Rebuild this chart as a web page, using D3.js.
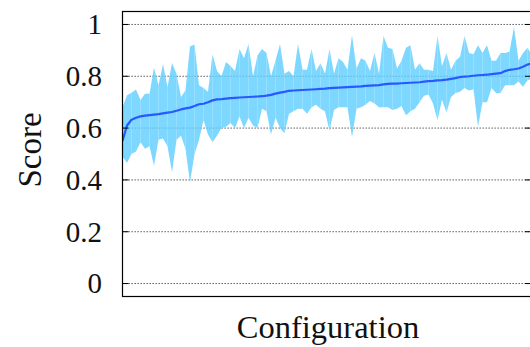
<!DOCTYPE html>
<html>
	<head>
		<meta charset="utf-8">
		<title>Score per configuration</title>
		<script src="https://d3js.org/d3.v7.min.js"></script>
		<style type="text/css">
			body {margin: 0; background: #fff;}
			text {font-family: 'Liberation Serif', 'DejaVu Serif', serif; fill: #111;}
		</style>
	</head>
	<body>
		<svg width=530 height=347></svg>
	</body>
	<script type="text/javascript">
		// y tick labels
		var yTicks = [0, 0.2, 0.4, 0.6, 0.8, 1];

		// upper / lower envelope and mean, one value per configuration (sorted by mean)
		var upper = [0.68, 0.727, 0.736, 0.749, 0.708, 0.733, 0.733, 0.833, 0.765, 0.846,
			0.759, 0.851, 0.81, 0.72, 0.746, 0.915, 0.923, 0.765, 0.755, 0.74,
			0.885, 0.82, 0.80, 0.855, 0.84, 0.82, 0.905, 0.87, 0.925, 0.80,
			0.88, 0.905, 0.89, 0.80, 0.86, 0.925, 0.81, 0.82, 0.80, 0.925,
			0.825, 0.825, 0.905, 0.82, 0.85, 0.81, 0.905, 0.81, 0.87, 0.855,
			0.825, 0.958, 0.83, 0.87, 0.86, 0.82, 0.89, 0.81, 0.955, 0.91,
			0.905, 0.83, 0.86, 0.91, 0.92, 0.825, 0.85, 0.825, 0.825, 0.82,
			0.955, 0.84, 0.89, 0.825, 0.86, 0.875, 0.955, 0.89, 0.885, 0.92,
			0.89, 0.92, 0.86, 0.86, 0.89, 0.89, 0.895, 0.99, 0.86, 0.89,
			0.91, 0.88];

		var lower = [0.49, 0.465, 0.50, 0.51, 0.545, 0.52, 0.53, 0.455, 0.555, 0.56,
			0.53, 0.43, 0.555, 0.57, 0.52, 0.39, 0.50, 0.555, 0.63, 0.575,
			0.545, 0.57, 0.60, 0.605, 0.62, 0.60, 0.645, 0.60, 0.64, 0.61,
			0.60, 0.675, 0.665, 0.575, 0.64, 0.60, 0.58, 0.655, 0.665, 0.675,
			0.675, 0.655, 0.68, 0.69, 0.675, 0.665, 0.59, 0.67, 0.68, 0.68,
			0.68, 0.565, 0.675, 0.68, 0.69, 0.705, 0.695, 0.68, 0.68, 0.68,
			0.67, 0.675, 0.685, 0.65, 0.665, 0.675, 0.70, 0.725, 0.73, 0.695,
			0.63, 0.71, 0.66, 0.72, 0.735, 0.74, 0.755, 0.745, 0.75, 0.605,
			0.70, 0.70, 0.755, 0.735, 0.735, 0.765, 0.765, 0.765, 0.78, 0.76,
			0.785, 0.79];

		var mean = [0.55, 0.61, 0.632, 0.64, 0.645, 0.648, 0.65, 0.652, 0.654, 0.657,
			0.66, 0.662, 0.667, 0.672, 0.676, 0.679, 0.685, 0.692, 0.694, 0.70,
			0.707, 0.711, 0.712, 0.714, 0.716, 0.717, 0.718, 0.719, 0.72, 0.721,
			0.722, 0.723, 0.725, 0.728, 0.733, 0.737, 0.74, 0.744, 0.745, 0.746,
			0.747, 0.748, 0.749, 0.75, 0.751, 0.752, 0.754, 0.755, 0.756, 0.757,
			0.758, 0.759, 0.760, 0.761, 0.763, 0.764, 0.765, 0.766, 0.769, 0.771,
			0.772, 0.772, 0.773, 0.774, 0.775, 0.776, 0.777, 0.779, 0.781, 0.782,
			0.784, 0.785, 0.787, 0.79, 0.793, 0.797, 0.799, 0.80, 0.802, 0.804,
			0.805, 0.806, 0.808, 0.81, 0.812, 0.82, 0.825, 0.827, 0.83, 0.837,
			0.845, 0.85];

		var svg = d3.select("svg"),
		    x0 = 122.5, x1 = 531, y0 = 11.5, y1 = 296.5;

		var data = mean.map(function (m, i) { return {i: i, lo: lower[i], hi: upper[i], m: m}; });

		var x = d3.scaleLinear().domain([0, data.length - 1]).range([x0, x0 + 4.5 * (data.length - 1)]);
		var y = d3.scaleLinear().domain([-0.05, 1.05]).range([y1, y0]);

		svg.append("clipPath").attr("id", "clip")
		  .append("rect").attr("x", x0).attr("y", y0).attr("width", x1 - x0).attr("height", y1 - y0);

		// dotted grid
		svg.append("g")
		  .selectAll("line").data(yTicks).enter().append("line")
		    .attr("x1", x0).attr("x2", x1)
		    .attr("y1", function (d) { return y(d); })
		    .attr("y2", function (d) { return y(d); })
		    .attr("stroke", "#444")
		    .attr("stroke-width", 1)
		    .attr("stroke-dasharray", "1.3,1.7");

		var plot = svg.append("g").attr("clip-path", "url(#clip)");

		// min/max band, one quad per segment (gives the thin seams)
		var band = d3.area()
		    .x(function (d) { return x(d.i); })
		    .y0(function (d) { return y(d.lo); })
		    .y1(function (d) { return y(d.hi); });

		plot.append("g")
		  .selectAll("path").data(d3.pairs(data)).enter().append("path")
		    .attr("d", band)
		    .attr("fill", "rgb(96,206,255)")
		    .attr("fill-opacity", 0.82);

		var line = d3.line()
		    .x(function (d) { return x(d.i); })
		    .y(function (d) { return y(d.m); });

		plot.append("path")
		    .datum(data)
		    .attr("d", line)
		    .attr("fill", "none")
		    .attr("stroke", "rgb(40,88,255)")
		    .attr("stroke-width", 2.2)
		    .attr("stroke-linejoin", "round");

		// frame
		svg.append("rect")
		    .attr("x", x0).attr("y", y0)
		    .attr("width", x1 - x0).attr("height", y1 - y0)
		    .attr("fill", "none").attr("stroke", "#000").attr("stroke-width", 1.2);

		// inward ticks on both sides
		var ticks = svg.append("g");
		ticks.selectAll("line.l").data(yTicks).enter().append("line")
		    .attr("x1", x0).attr("x2", x0 + 6)
		    .attr("y1", function (d) { return y(d); }).attr("y2", function (d) { return y(d); })
		    .attr("stroke", "#000").attr("stroke-width", 1);
		ticks.selectAll("line.r").data(yTicks).enter().append("line")
		    .attr("x1", x1 - 6).attr("x2", x1)
		    .attr("y1", function (d) { return y(d); }).attr("y2", function (d) { return y(d); })
		    .attr("stroke", "#000").attr("stroke-width", 1);

		svg.append("g")
		  .selectAll("text").data(yTicks).enter().append("text")
		    .attr("x", 102)
		    .attr("y", function (d) { return y(d) + 9.8; })
		    .attr("text-anchor", "end")
		    .style("font-size", "29px")
		    .text(function (d) { return d3.format("~g")(d); });

		svg.append("text")
		    .attr("x", 328).attr("y", 338)
		    .attr("text-anchor", "middle")
		    .style("font-size", "32.5px")
		    .text("Configuration");

		svg.append("text")
		    .attr("transform", "translate(41,150) rotate(-90)")
		    .attr("text-anchor", "middle")
		    .style("font-size", "33px")
		    .text("Score");
	</script>
</html>
